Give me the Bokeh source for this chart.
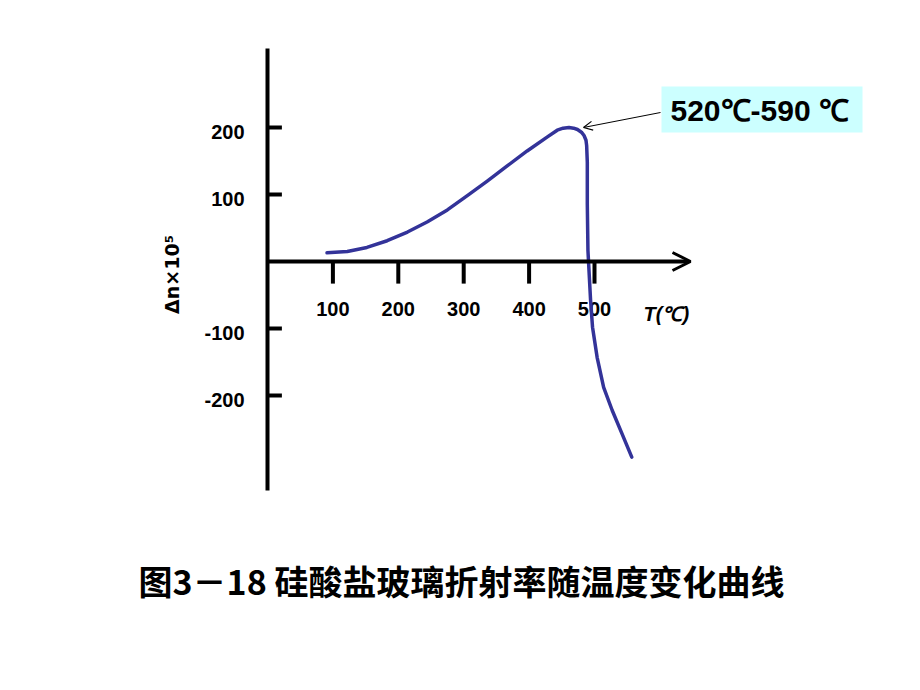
from bokeh.plotting import figure
from bokeh.models import Range1d, Arrow, OpenHead
from bokeh.core.properties import value
from bokeh.embed import file_html
from bokeh.resources import INLINE
import math

# ---- data ----
temp_c = [91, 122, 152, 183, 214, 244, 275, 305, 336, 367, 397, 428, 443, 452, 461, 468, 474,
          480, 484, 487, 488, 489, 489, 489, 490, 494, 497, 504, 514, 527, 542, 557]
dn = [13, 15, 21, 31, 44, 59, 77, 98, 120, 143, 165, 186, 196, 199, 200, 199, 197,
      193, 188, 181, 173, 148, 118, 86, 16, -58, -98, -143, -188, -222, -257, -292]

x_ticks = [100, 200, 300, 400, 500]
x_tick_labels = ["100", "200", "300", "400", "500"]
y_ticks = [200, 100, -100, -200]
y_tick_labels = ["200", "100", "-100", "-200"]

annotation_text = "520\u2103-590 \u2103"
x_title = "T(\u2103)"
y_title = "\u0394n\u00d710\u2075"
caption = "图3－18 硅酸盐玻璃折射率随温度变化曲线"

# ---- page geometry (pixels per data unit, origin position) ----
W, H = 920, 690
KX, KY = 0.654, 0.67          # px per unit
X0, Y0 = 267, 261             # pixel location of the origin

p = figure(width=W, height=H,
           x_range=Range1d(-X0 / KX, (W - X0) / KX),
           y_range=Range1d(-(H - Y0) / KY, Y0 / KY),
           output_backend="svg", toolbar_location=None,
           x_axis_type=None, y_axis_type=None,
           min_border=0, outline_line_color=None,
           background_fill_color="white", border_fill_color="white")

def tx(px):
    return (px - X0) / KX

def ty(py):
    return (Y0 - py) / KY

# axes
p.line([0, 0], [ty(48), ty(490)], line_color="black", line_width=4)
p.add_layout(Arrow(x_start=0, y_start=0, x_end=tx(690), y_end=0,
                   line_color="black", line_width=4,
                   end=OpenHead(size=18, line_width=3, line_color="black")))

# ticks
p.segment(x0=x_ticks, y0=[0] * len(x_ticks), x1=x_ticks, y1=[-33] * len(x_ticks),
          line_color="black", line_width=4)
p.segment(x0=[0] * len(y_ticks), y0=y_ticks, x1=[22] * len(y_ticks), y1=y_ticks,
          line_color="black", line_width=4)

lab_font = value("Liberation Sans")
p.text(x=x_ticks, y=[ty(308)] * len(x_ticks), text=x_tick_labels,
       text_font=lab_font, text_font_style="bold", text_font_size="20px",
       text_align="center", text_baseline="middle", text_color="black")
p.text(x=[tx(244)] * len(y_ticks), y=y_ticks, text=y_tick_labels,
       text_font=lab_font, text_font_style="bold", text_font_size="20px",
       text_align="right", text_baseline="middle", text_color="black",
       y_offset=4)

p.text(x=[tx(643)], y=[ty(313)], text=[x_title],
       text_font=lab_font, text_font_style="bold italic", text_font_size="20px",
       text_align="left", text_baseline="middle", text_color="black")
p.text(x=[tx(171)], y=[ty(274)], text=[y_title], angle=math.pi / 2,
       text_font=value("DejaVu Sans"), text_font_style="bold", text_font_size="19px",
       text_align="center", text_baseline="middle", text_color="black")

# curve
p.line(temp_c, dn, line_color="#333399", line_width=3.5,
       line_join="round", line_cap="round")

# annotation box + arrow
p.quad(left=[tx(661)], right=[tx(862)], top=[ty(86)], bottom=[ty(132)],
       fill_color="#ccffff", line_color=None)
p.text(x=[tx(670)], y=[ty(110)], text=[annotation_text],
       text_font=lab_font, text_font_style="bold", text_font_size="30px",
       text_align="left", text_baseline="middle", text_color="black")
p.add_layout(Arrow(x_start=tx(660), y_start=ty(112), x_end=tx(583), y_end=ty(127),
                   line_color="black", line_width=1,
                   end=OpenHead(size=9, line_width=1.2, line_color="black")))

# caption
p.text(x=[tx(461)], y=[ty(580)], text=[caption],
       text_font=value("Noto Sans CJK SC"), text_font_style="bold", text_font_size="34px",
       text_align="center", text_baseline="middle", text_color="black")

open("out.html", "w").write(file_html(p, INLINE))
